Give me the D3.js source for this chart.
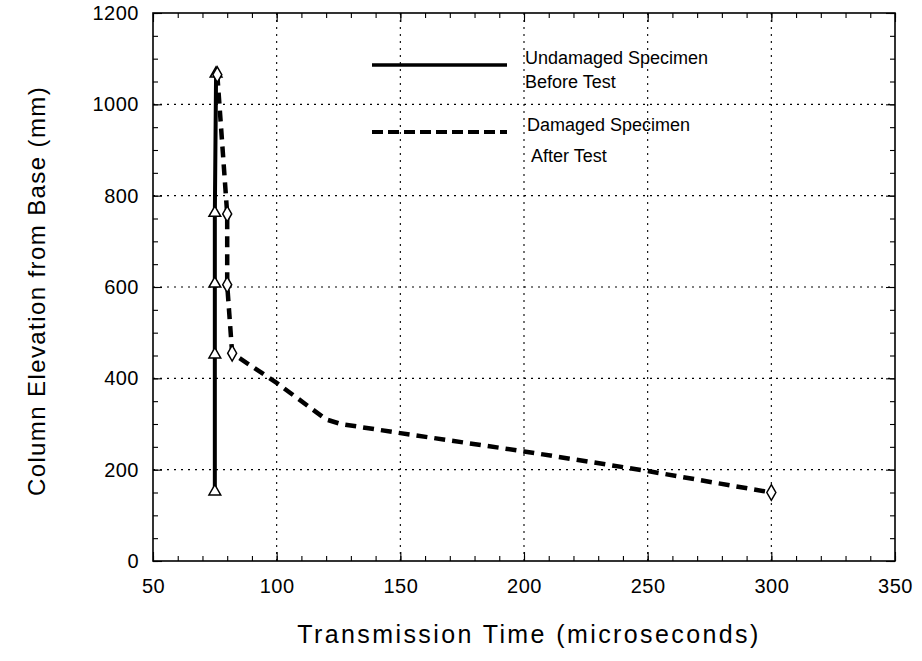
<!DOCTYPE html>
<html>
<head>
<meta charset="utf-8">
<script src="https://cdn.jsdelivr.net/npm/d3@7"></script>
<style>
  html, body { margin: 0; padding: 0; background: #fff; }
  svg { display: block; }
  text { font-family: "Liberation Sans", Arial, Helvetica, sans-serif; fill: #000; }
</style>
</head>
<body>
<svg id="chart" width="922" height="661"></svg>
<script>
// Ultrasonic pulse transmission time along the column height
const undamagedTime = [75, 75, 75, 75, 75.5];
const undamagedElev = [150, 450, 605, 760, 1065];

const damagedTime = [76, 80, 80, 82, 100, 120, 126, 150, 200, 250, 300];
const damagedElev = [1065, 760, 605, 455, 390, 310, 300, 280, 240, 197, 150];
// points of the damaged profile that carry a marker
const damagedMarked = [0, 1, 2, 3, 10];

const xTicks = [50, 100, 150, 200, 250, 300, 350];
const yTicks = [0, 200, 400, 600, 800, 1000, 1200];

const legendLabels = [
  ["Undamaged Specimen", "Before Test"],
  ["Damaged Specimen", "After Test"]
];

const svg = d3.select("#chart");
const m = { left: 153, right: 895, top: 13, bottom: 561 };

const x = d3.scaleLinear().domain([50, 350]).range([m.left, m.right]);
const y = d3.scaleLinear().domain([0, 1200]).range([m.bottom, m.top]);

// dotted grid at the major ticks
const grid = svg.append("g").attr("stroke", "#000").attr("stroke-width", 1.1)
  .attr("stroke-dasharray", "2,5");
grid.selectAll(".gx").data(xTicks.slice(1, -1)).join("line")
  .attr("x1", d => x(d)).attr("x2", d => x(d))
  .attr("y1", m.top).attr("y2", m.bottom);
grid.selectAll(".gy").data(yTicks.slice(1, -1)).join("line")
  .attr("x1", m.left).attr("x2", m.right)
  .attr("y1", d => y(d)).attr("y2", d => y(d));

// inward ticks on all four sides
const xMinor = d3.range(50, 351, 10);
const yMinor = d3.range(0, 1201, 50);
const tickFmt = () => "";
function inward(axisGen, major, minor, tr) {
  const gMinor = svg.append("g").attr("transform", tr)
    .call(axisGen.tickValues(minor).tickSize(-5).tickFormat(tickFmt));
  const gMajor = svg.append("g").attr("transform", tr)
    .call(axisGen.tickValues(major).tickSize(-9).tickFormat(tickFmt));
  [gMinor, gMajor].forEach(g => {
    g.select(".domain").remove();
    g.selectAll("line").attr("stroke", "#000").attr("stroke-width", 1.1);
  });
}
inward(d3.axisBottom(x), xTicks, xMinor, `translate(0,${m.bottom})`);
inward(d3.axisTop(x), xTicks, xMinor, `translate(0,${m.top})`);
inward(d3.axisLeft(y), yTicks, yMinor, `translate(${m.left},0)`);
inward(d3.axisRight(y), yTicks, yMinor, `translate(${m.right},0)`);

// frame
svg.append("rect").attr("x", m.left).attr("y", m.top)
  .attr("width", m.right - m.left).attr("height", m.bottom - m.top)
  .attr("fill", "none").attr("stroke", "#000").attr("stroke-width", 1.6);

// tick labels
const xAxisLabels = svg.append("g").attr("transform", `translate(0,${m.bottom})`)
  .call(d3.axisBottom(x).tickValues(xTicks).tickSize(0).tickPadding(18).tickFormat(d3.format("d")));
xAxisLabels.select(".domain").remove();
xAxisLabels.selectAll("text").attr("font-size", 20)
  .attr("font-family", "'Liberation Sans', Arial, sans-serif").attr("letter-spacing", 0.5);

const yAxisLabels = svg.append("g").attr("transform", `translate(${m.left},0)`)
  .call(d3.axisLeft(y).tickValues(yTicks).tickSize(0).tickPadding(14).tickFormat(d3.format("d")));
yAxisLabels.select(".domain").remove();
yAxisLabels.selectAll("text").attr("font-size", 20)
  .attr("font-family", "'Liberation Sans', Arial, sans-serif").attr("letter-spacing", 0.5);

// axis titles
svg.append("text").attr("x", (m.left + m.right) / 2 + 5).attr("y", 643)
  .attr("text-anchor", "middle").attr("font-size", 25).attr("letter-spacing", 2.4)
  .text("Transmission Time (microseconds)");
svg.append("text")
  .attr("transform", `translate(45,${(m.top + m.bottom) / 2 + 4}) rotate(-90)`)
  .attr("text-anchor", "middle").attr("font-size", 24).attr("letter-spacing", 1.4)
  .text("Column Elevation from Base (mm)");

// series
const line = d3.line().x(d => x(d[0])).y(d => y(d[1]));
const undamaged = undamagedTime.map((t, i) => [t, undamagedElev[i]]);
const damaged = damagedTime.map((t, i) => [t, damagedElev[i]]);

svg.append("path").datum(undamaged).attr("d", line)
  .attr("fill", "none").attr("stroke", "#000").attr("stroke-width", 4);
svg.append("path").datum(damaged).attr("d", line)
  .attr("fill", "none").attr("stroke", "#000").attr("stroke-width", 4.5)
  .attr("stroke-dasharray", "11,7");

// markers
const tri = d3.symbol().type(d3.symbolTriangle).size(60);
svg.append("g").selectAll("path").data(undamaged).join("path")
  .attr("d", tri)
  .attr("transform", d => `translate(${x(d[0])},${y(d[1]) - 1})`)
  .attr("fill", "#fff").attr("stroke", "#000").attr("stroke-width", 1.5);

const dia = d3.symbol().type(d3.symbolDiamond).size(70);
svg.append("g").selectAll("path").data(damagedMarked.map(i => damaged[i])).join("path")
  .attr("d", dia)
  .attr("transform", d => `translate(${x(d[0])},${y(d[1])})`)
  .attr("fill", "#fff").attr("stroke", "#000").attr("stroke-width", 1.5);

// legend
const leg = svg.append("g");
leg.append("line").attr("x1", 372).attr("x2", 507).attr("y1", 65).attr("y2", 65)
  .attr("stroke", "#000").attr("stroke-width", 3.5);
leg.append("line").attr("x1", 372).attr("x2", 507).attr("y1", 132).attr("y2", 132)
  .attr("stroke", "#000").attr("stroke-width", 4).attr("stroke-dasharray", "11,5");
const legText = [[525, 64], [527, 131]];
legendLabels.forEach((lines, i) => {
  const t = leg.append("text").attr("font-size", 18).attr("x", legText[i][0]).attr("y", legText[i][1]);
  t.append("tspan").attr("x", legText[i][0]).attr("dy", 0).text(lines[0]);
  t.append("tspan").attr("x", legText[i][0] + (i === 1 ? 4 : 0)).attr("dy", i === 1 ? 31 : 24).text(lines[1]);
});
</script>
</body>
</html>
